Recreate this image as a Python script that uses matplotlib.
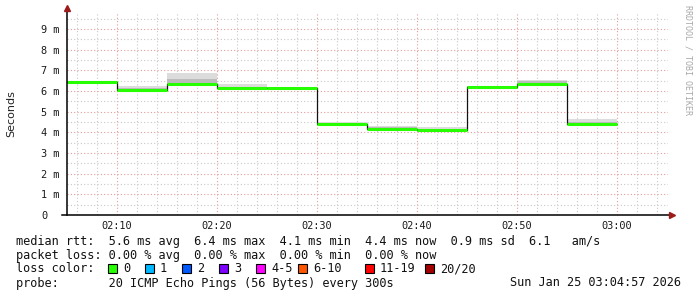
"""SmokePing-style latency graph: median rtt with smoke, last hour."""

import matplotlib
matplotlib.use("Agg")
import matplotlib.pyplot as plt
from matplotlib.patches import Rectangle
from matplotlib.ticker import FuncFormatter, MultipleLocator

# 5-minute step starts (each step lasts 300 s)
step_start = ["02:05", "02:10", "02:15", "02:20", "02:25", "02:30",
              "02:35", "02:40", "02:45", "02:50", "02:55"]
median_ms = [6.44, 6.05, 6.32, 6.16, 6.15, 4.42, 4.18, 4.11, 6.21, 6.34, 4.42]
smoke_lo = [6.42, 6.03, 6.30, 6.14, 6.13, 4.40, 4.16, 4.09, 6.19, 6.32, 4.40]
smoke_hi = [6.50, 6.24, 6.88, 6.34, 6.17, 4.50, 4.31, 4.24, 6.24, 6.52, 4.63]
core_hi = [6.46, 6.16, 6.56, 6.20, 6.16, 4.46, 4.25, 4.17, 6.22, 6.50, 4.51]
step_min = 5

x_ticks = ["02:10", "02:20", "02:30", "02:40", "02:50", "03:00"]
y_ticks = [0, 1, 2, 3, 4, 5, 6, 7, 8, 9]

stats_rtt = "median rtt:  5.6 ms avg  6.4 ms max  4.1 ms min  4.4 ms now  0.9 ms sd  6.1   am/s"
stats_loss = "packet loss: 0.00 % avg  0.00 % max  0.00 % min  0.00 % now"
loss_labels = ["0", "1", "2", "3", "4-5", "6-10", "11-19", "20/20"]
loss_colors = ["#26ff00", "#00b8ff", "#0059ff", "#7e00ff",
               "#ff00ff", "#ff5500", "#ff0000", "#a10000"]
probe = "probe:       20 ICMP Echo Pings (56 Bytes) every 300s"
stamp = "Sun Jan 25 03:04:57 2026"


def to_min(s):
    h, m = s.split(":")
    return int(h) * 60 + int(m) - 120  # minutes after 02:00


W, H = 697, 297
fig = plt.figure(figsize=(W / 100, H / 100), dpi=100)
fig.patch.set_facecolor("white")
L, R, B, T = 67, 668, 215, 13
ax = fig.add_axes([L / W, 1 - B / H, (R - L) / W, (B - T) / H])
ax.set_xlim(5, 5 + (R - L) / 10)
ax.set_ylim(0, (B - T) / 20.67)
for s in ax.spines.values():
    s.set_visible(False)

mono = "DejaVu Sans Mono"
dots = (0, (1, 2))
ax.xaxis.set_major_locator(MultipleLocator(10))
ax.xaxis.set_minor_locator(MultipleLocator(2))
ax.yaxis.set_major_locator(MultipleLocator(1))
ax.yaxis.set_minor_locator(MultipleLocator(0.5))
ax.grid(which="minor", color="#c8c8c8", lw=0.8, ls=dots)
ax.grid(which="major", color="#e49a9a", lw=0.8, ls=dots)
ax.set_axisbelow(True)

ax.set_xticks([to_min(t) for t in x_ticks])
ax.xaxis.set_major_formatter(FuncFormatter(lambda v, p: "%02d:%02d" % ((v + 120) // 60, (v + 120) % 60)))
ax.set_yticks(y_ticks)
ax.set_yticklabels(["0" if v == 0 else f"{v} m" for v in y_ticks])
ax.tick_params(which="both", length=0)
ax.tick_params(axis="x", pad=4, labelsize=7.4, labelcolor="#1a1a1a")
ax.tick_params(axis="y", pad=18.5, labelsize=7.4, labelcolor="#1a1a1a")
for lab in ax.get_xticklabels() + ax.get_yticklabels():
    lab.set_fontfamily(mono)
for lab in ax.get_yticklabels():
    lab.set_horizontalalignment("left")

x0 = [to_min(t) for t in step_start]
x1 = [v + step_min for v in x0]

# smoke
for a, b, lo, hi, core, med in zip(x0, x1, smoke_lo, smoke_hi, core_hi, median_ms):
    ax.fill_between([a, b], lo, hi, color="#dcdcdc", lw=0, zorder=2)
    ax.fill_between([a, b], lo, core, color="#bcbcbc", lw=0, zorder=2)

# median: black step, green flats
xs, ys = [], []
for a, b, m in zip(x0, x1, median_ms):
    xs += [a, b]
    ys += [m, m]
ax.plot(xs, ys, color="#111111", lw=0.9, zorder=3, solid_capstyle="butt")
for a, b, m in zip(x0, x1, median_ms):
    ax.plot([a, b], [m, m], color=loss_colors[0], lw=2.2, zorder=4, solid_capstyle="butt")

# axes lines with arrows
ax.plot([-5 / (R - L), 1.004], [0, 0], transform=ax.transAxes, color="black",
        lw=1.1, clip_on=False, zorder=5)
ax.plot([0, 0], [0, 1.02], transform=ax.transAxes, color="black",
        lw=1.1, clip_on=False, zorder=5)
ax.plot([1.006], [0], transform=ax.transAxes, marker=">", ms=4.5, color="#9b1b1b",
        clip_on=False, zorder=6)
ax.plot([0], [1.025], transform=ax.transAxes, marker="^", ms=4.5, color="#9b1b1b",
        clip_on=False, zorder=6)

fig.text(11 / W, 1 - 114 / H, "Seconds", rotation=90, ha="center", va="center",
         fontsize=8, color="#222222", family="DejaVu Sans")
fig.text(688 / W, 1 - 5 / H, "RRDTOOL / TOBI OETIKER", rotation=-90, ha="center",
         va="top", fontsize=6.0, color="#a8a8a8", family=mono)

fs = 8.55
fig.text(16 / W, 1 - 241 / H, stats_rtt, ha="left", va="center", fontsize=fs, family=mono, color="#111111")
fig.text(16 / W, 1 - 255 / H, stats_loss, ha="left", va="center", fontsize=fs, family=mono, color="#111111")
fig.text(16 / W, 1 - 269 / H, "loss color:", ha="left", va="center", fontsize=fs, family=mono, color="#111111")
box_x = [108, 145, 182, 219, 256, 298, 365, 425]
for bx, lab, col in zip(box_x, loss_labels, loss_colors):
    fig.patches.append(Rectangle((bx / W, 1 - 273 / H), 9 / W, 9 / H, transform=fig.transFigure,
                                 facecolor=col, edgecolor="black", lw=0.8))
    fig.text((bx + 15) / W, 1 - 269 / H, lab, ha="left", va="center", fontsize=fs,
             family=mono, color="#111111")
fig.text(16 / W, 1 - 283 / H, probe, ha="left", va="center", fontsize=fs, family=mono, color="#111111")
fig.text(681 / W, 1 - 283 / H, stamp, ha="right", va="center", fontsize=fs, family=mono, color="#111111")

fig.savefig("out.png", dpi=100, facecolor="white")
